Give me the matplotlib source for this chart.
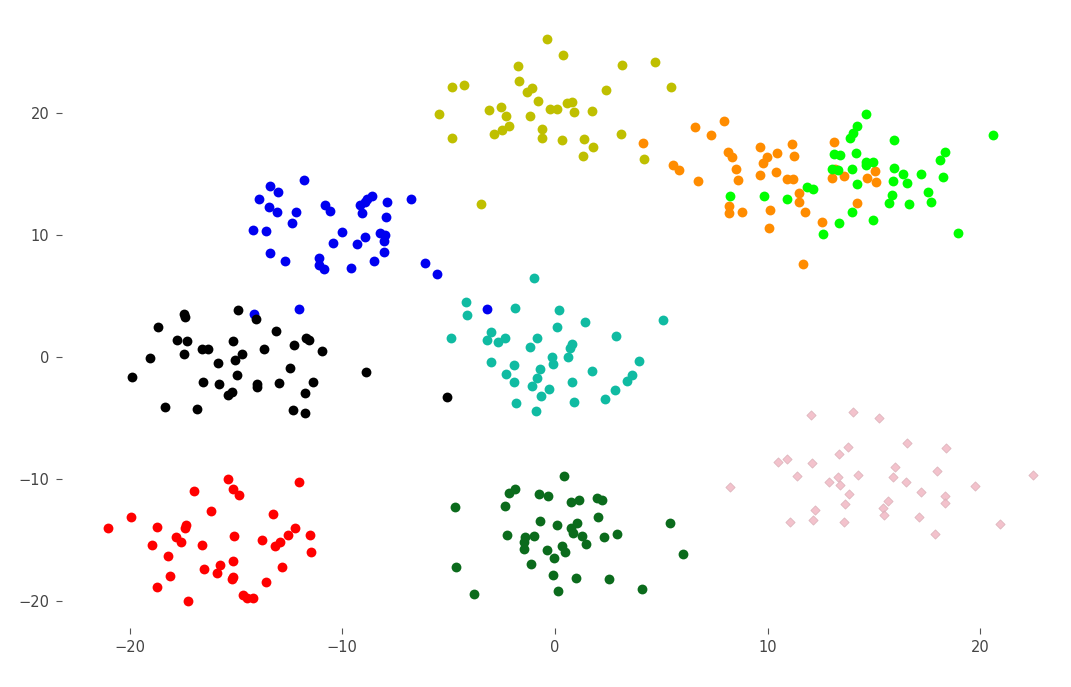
import matplotlib
matplotlib.use("Agg")
import matplotlib.pyplot as plt

yellow_x = [-0.39, 0.39, -1.75, 3.14, 4.72, -4.84, -4.26, -1.69, -1.07, -1.30, 2.40, 5.45, -5.45, -3.10,
            -2.52, -2.32, -1.18, -0.79, -0.24, 0.08, 0.55, 0.79, 0.91, 1.74, -4.84, -2.87, -2.51, -2.16,
            -0.61, -0.63, 0.34, 1.36, 1.80, 1.33, 3.10, 4.18, -3.48]
yellow_y = [26.07, 24.75, 23.85, 23.91, 24.16, 22.13, 22.27, 22.65, 22.07, 21.70, 21.86, 22.13, 19.92, 20.22,
            20.49, 19.78, 19.75, 20.98, 20.30, 20.33, 20.80, 20.93, 20.11, 20.14, 17.95, 18.28, 18.58, 18.93,
            18.69, 17.93, 17.79, 17.84, 17.19, 16.48, 18.28, 16.23, 12.54]

orange_x = [6.58, 7.95, 7.32, 4.15, 5.56, 5.84, 6.71, 8.15, 8.31, 9.64, 11.13, 10.45, 9.98, 9.79, 11.24,
            8.51, 8.62, 9.64, 10.38, 10.89, 11.18, 11.47, 11.49, 11.77, 8.19, 8.19, 8.78, 10.11, 10.08,
            12.55, 11.67, 13.12, 13.16, 13.01, 13.59, 14.21, 15.04, 14.65, 15.09]
orange_y = [18.83, 19.34, 18.20, 17.52, 15.74, 15.33, 14.43, 16.83, 16.42, 17.19, 17.46, 16.70, 16.37, 15.93, 16.50,
            15.41, 14.51, 14.92, 15.19, 14.57, 14.57, 13.42, 12.68, 11.89, 12.38, 11.78, 11.89, 12.05, 10.57,
            11.07, 7.62, 17.62, 15.39, 14.65, 14.84, 12.60, 15.25, 14.65, 14.37]

lime_x = [14.62, 14.18, 14.02, 13.87, 15.94, 13.12, 13.40, 14.15, 14.62, 14.96, 14.62, 18.34, 18.10, 13.01,
          13.32, 13.98, 15.94, 16.35, 17.22, 18.26, 15.90, 16.54, 14.18, 11.83, 12.14, 8.23, 9.84, 10.92,
          15.84, 15.70, 17.54, 17.69, 16.66, 13.95, 14.96, 13.34, 12.61, 18.96, 20.59]
lime_y = [19.92, 18.93, 18.39, 17.93, 17.79, 16.64, 16.56, 16.75, 16.01, 16.01, 15.74, 16.78, 16.15, 15.41,
          15.33, 15.39, 15.47, 15.00, 15.00, 14.75, 14.43, 14.24, 14.16, 13.91, 13.77, 13.22, 13.22, 12.95,
          13.28, 12.65, 13.52, 12.68, 12.54, 11.89, 11.25, 10.96, 10.08, 10.14, 18.20]

blue_x = [-11.80, -13.40, -13.01, -13.90, -13.43, -13.08, -12.18, -12.36, -14.21, -13.59, -10.80, -10.58,
          -9.17, -8.93, -8.62, -8.82, -9.09, -7.88, -6.77, -7.95, -10.00, -10.42, -9.29, -8.92, -8.23, -7.99,
          -8.04, -8.04, -8.51, -13.40, -12.68, -11.08, -11.08, -10.86, -9.58, -6.10, -5.53, -14.14, -12.02, -3.21]
blue_y = [14.51, 14.02, 13.50, 12.95, 12.32, 11.86, 11.89, 10.96, 10.41, 10.33, 12.48, 11.97,
          12.46, 12.73, 13.22, 12.93, 11.78, 12.68, 12.95, 11.45, 10.25, 9.34, 9.24, 9.81, 10.19, 9.98,
          9.53, 8.58, 7.87, 8.50, 7.87, 8.14, 7.54, 7.19, 7.30, 7.70, 6.80, 3.52, 3.93, 3.91]

black_x = [-17.43, -17.40, -14.89, -14.06, -18.66, -13.10, -17.76, -17.30, -15.12, -12.26, -11.72, -11.57,
           -10.95, -19.04, -17.43, -16.60, -16.30, -13.68, -14.72, -15.04, -15.84, -19.89, -12.44, -8.89,
           -14.95, -16.54, -15.80, -14.02, -14.00, -12.96, -11.36, -15.17, -15.37, -11.74, -18.32, -16.82,
           -12.30, -11.74, -5.09]
black_y = [3.52, 3.30, 3.85, 3.09, 2.43, 2.11, 1.37, 1.29, 1.29, 0.98, 1.53, 1.39,
           0.47, -0.11, 0.25, 0.63, 0.63, 0.63, 0.25, -0.27, -0.49, -1.66, -0.90, -1.23,
           -1.48, -2.05, -2.24, -2.24, -2.43, -2.16, -2.05, -2.84, -3.11, -2.98, -4.10, -4.26,
           -4.32, -4.61, -3.30]

cyan_x = [-0.97, -4.18, -4.12, -1.87, 0.20, 5.09, 1.41, 0.08, 2.87, -4.89, -3.01, -3.18, -2.67, -2.35,
          -0.83, -1.18, 0.81, 0.71, 0.61, -0.13, -0.08, -3.01, -1.91, -0.71, -0.83, -2.30, -1.91, -1.07,
          -0.27, 0.81, 1.75, 3.96, 3.62, 3.37, 2.83, -0.64, -1.82, 0.89, 2.36, -0.89]
cyan_y = [6.45, 4.51, 3.42, 3.99, 3.83, 3.03, 2.87, 2.43, 1.72, 1.53, 2.05, 1.37, 1.20, 1.53,
          1.53, 0.80, 1.07, 0.71, -0.02, 0.02, -0.57, -0.41, -0.68, -1.01, -1.70, -1.39, -2.05, -2.38,
          -2.60, -2.05, -1.17, -0.30, -1.48, -1.97, -2.70, -3.20, -3.80, -3.69, -3.47, -4.45]

red_x = [-15.36, -12.02, -16.96, -15.12, -14.84, -16.16, -19.92, -13.26, -21.02, -18.70, -17.35, -17.40,
         -15.08, -17.82, -17.60, -13.78, -12.21, -12.54, -11.52, -12.93, -13.16, -18.95, -16.61, -11.47,
         -18.19, -15.15, -15.75, -15.88, -16.49, -15.12, -15.20, -12.82, -18.10, -18.70, -13.59, -17.27,
         -14.65, -14.47, -14.21]
red_y = [-10.00, -10.27, -11.01, -10.82, -11.31, -12.62, -13.11, -12.87, -14.04, -13.93, -13.77, -14.04,
         -14.67, -14.73, -15.14, -15.00, -14.02, -14.59, -14.59, -15.14, -15.49, -15.43, -15.43, -15.98,
         -16.34, -16.72, -17.07, -17.68, -17.40, -18.01, -18.22, -17.24, -17.98, -18.88, -18.47, -20.00,
         -19.51, -19.78, -19.78]

dgreen_x = [0.42, -2.15, -1.87, -0.75, -0.33, -4.70, -2.34, 0.77, 1.14, 1.99, 2.21, 2.04, 5.41, -0.71,
            0.09, 1.02, 0.74, 0.83, 1.26, 2.32, 2.93, -2.24, -0.99, -1.40, -1.44, -1.44, 1.46, 0.31, 0.46,
            -0.38, -0.05, 6.03, -1.11, -4.64, -0.09, 0.99, 2.54, 4.10, -3.81, 0.16]
dgreen_y = [-9.75, -11.17, -10.82, -11.23, -11.39, -12.32, -12.24, -11.91, -11.72, -11.56, -11.75, -13.14,
            -13.63, -13.47, -13.80, -13.63, -14.04, -14.45, -14.70, -14.78, -14.51, -14.61, -14.70, -14.78,
            -15.19, -15.76, -15.33, -15.47, -16.01, -15.82, -16.45, -16.15, -16.97, -17.24, -17.89, -18.11,
            -18.20, -19.02, -19.45, -19.18]

pink_x = [12.02, 14.02, 15.25, 16.54, 18.38, 13.79, 13.37, 10.50, 10.89, 12.07, 11.36, 12.90, 13.32, 13.40,
          14.26, 15.99, 15.91, 16.50, 17.97, 22.49, 19.73, 8.23, 17.19, 13.84, 13.65, 18.34, 18.34, 15.67,
          15.43, 15.47, 12.24, 12.12, 11.05, 13.59, 17.10, 17.88, 20.92]
pink_y = [-4.75, -4.48, -5.02, -7.02, -7.43, -7.40, -7.95, -8.58, -8.39, -8.71, -9.75, -10.27, -9.81, -10.49,
          -9.67, -8.99, -9.81, -10.25, -9.32, -9.67, -10.57, -10.68, -11.04, -11.23, -12.05, -11.39, -11.99,
          -11.78, -12.40, -12.95, -12.54, -13.36, -13.52, -13.50, -13.14, -14.51, -13.69]

x_ticks = [-20, -10, 0, 10, 20]
y_ticks = [-20, -10, 0, 10, 20]

fig = plt.figure(figsize=(10.71, 6.87), dpi=100)
ax = fig.add_axes([62 / 1071, 59.2 / 687, 1009 / 1071, 616.1 / 687])

groups = [
    (yellow_x, yellow_y, "#bfbf00"),
    (orange_x, orange_y, "#ff8c00"),
    (lime_x, lime_y, "#00ff00"),
    (blue_x, blue_y, "#0000f0"),
    (black_x, black_y, "#000000"),
    (cyan_x, cyan_y, "#10bba2"),
    (red_x, red_y, "#ff0000"),
    (dgreen_x, dgreen_y, "#0b6b1c"),
]
for xs, ys, col in groups:
    ax.scatter(xs, ys, s=50, c=col, linewidths=0)
ax.scatter(pink_x, pink_y, s=22, marker="D", c="#f2b8c4", edgecolors="#d9b0b8",
           linewidths=0.6, alpha=0.85)

ax.set_xlim(-23.18, 24.26)
ax.set_ylim(-22.2, 28.3)
ax.set_xticks(x_ticks)
ax.set_yticks(y_ticks)
for s in ax.spines.values():
    s.set_visible(False)
ax.tick_params(axis="both", length=4, width=0.8, color="#555555",
               labelcolor="#444444", labelsize=10.5, pad=5)
fig.savefig("out.png", dpi=100)
